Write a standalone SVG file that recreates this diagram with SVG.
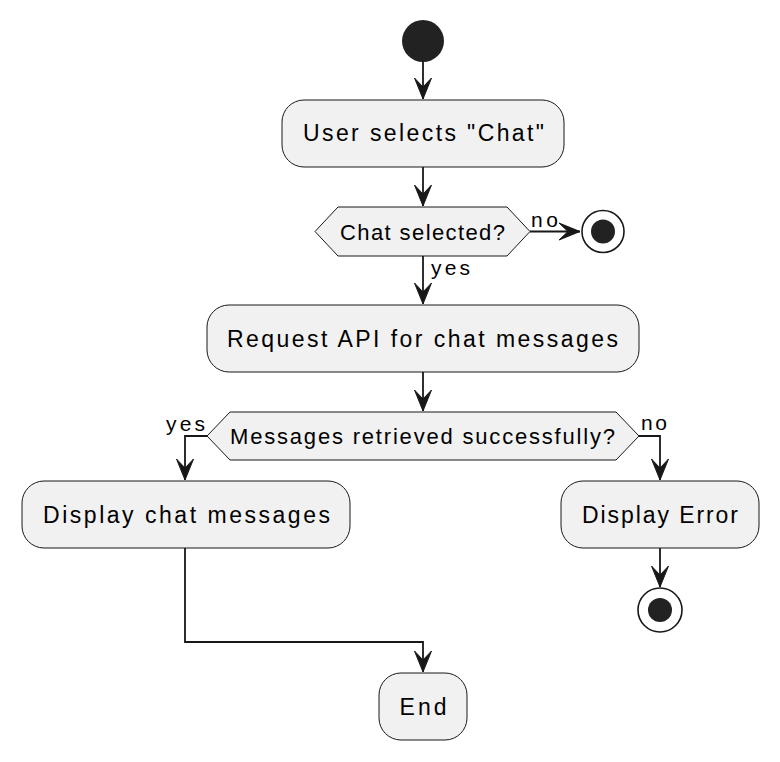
<svg xmlns="http://www.w3.org/2000/svg" width="780" height="762" viewBox="0 0 780 762">
<defs>
<style>
.box{fill:#F1F1F1;stroke:#181818;stroke-width:1}
.t{font-family:"Liberation Sans",Arial,sans-serif;font-size:23px;fill:#000}
.lbl{font-family:"Liberation Sans",Arial,sans-serif;font-size:21px;fill:#000}
.c{fill:none;stroke:#181818;stroke-width:1.8}
.dot{fill:#222222}
.ring{fill:#FFFFFF;stroke:#181818;stroke-width:1.6}
</style>
<marker id="ah" markerUnits="userSpaceOnUse" viewBox="-23 -10 24 20" markerWidth="24" markerHeight="20" refX="0" refY="0" orient="auto" overflow="visible">
<path d="M0,0 L-21,-8.5 L-12,0 L-21,8.5 Z" fill="#181818" stroke="#181818" stroke-width="1" stroke-linejoin="miter"/>
</marker>
</defs>
<rect width="780" height="762" fill="#FFFFFF"/>
<g id="connectors">
<path class="c" d="M423,62 L423,99" marker-end="url(#ah)"/>
<path class="c" d="M423,167 L423,206" marker-end="url(#ah)"/>
<path class="c" d="M530,231.5 L580,231.5" marker-end="url(#ah)"/>
<path class="c" d="M423,256 L423,304" marker-end="url(#ah)"/>
<path class="c" d="M423,372 L423,411" marker-end="url(#ah)"/>
<path class="c" d="M207,436 L185,436 L185,480" marker-end="url(#ah)"/>
<path class="c" d="M639,436 L660,436 L660,480" marker-end="url(#ah)"/>
<path class="c" d="M660,548 L660,587" marker-end="url(#ah)"/>
<path class="c" d="M185,548 L185,642 L423,642 L423,672" marker-end="url(#ah)"/>
<text class="lbl" x="531" y="227" textLength="27" lengthAdjust="spacing">no</text>
<text class="lbl" x="431" y="275" textLength="39" lengthAdjust="spacing">yes</text>
<text class="lbl" x="166" y="431" textLength="39" lengthAdjust="spacing">yes</text>
<text class="lbl" x="641" y="430" textLength="26" lengthAdjust="spacing">no</text>
</g>
<g id="start">
<circle class="dot" cx="423" cy="41" r="21"/>
</g>
<g id="userSelects">
<rect class="box" x="282" y="100" width="282" height="67" rx="22"/>
<text class="t" x="303" y="141" textLength="241" lengthAdjust="spacing">User selects "Chat"</text>
</g>
<g id="chatSelected">
<polygon class="box" points="315,231.5 338,207 507,207 530,231.5 507,256 338,256"/>
<text class="t" x="340" y="240" style="font-size:22px" textLength="165" lengthAdjust="spacing">Chat selected?</text>
</g>
<g id="end1">
<circle class="ring" cx="603" cy="231.5" r="21"/>
<circle class="dot" cx="603" cy="231.5" r="12"/>
</g>
<g id="requestApi">
<rect class="box" x="207" y="305" width="432" height="67" rx="22"/>
<text class="t" x="227" y="346.5" textLength="391" lengthAdjust="spacing">Request API for chat messages</text>
</g>
<g id="retrieved">
<polygon class="box" points="207,436 230,412 616,412 639,436 616,460 230,460"/>
<text class="t" x="230" y="444" style="font-size:22px" textLength="385" lengthAdjust="spacing">Messages retrieved successfully?</text>
</g>
<g id="displayChat">
<rect class="box" x="22" y="481" width="328" height="67" rx="22"/>
<text class="t" x="43" y="523" textLength="287" lengthAdjust="spacing">Display chat messages</text>
</g>
<g id="displayError">
<rect class="box" x="561" y="481" width="198" height="67" rx="22"/>
<text class="t" x="582" y="523" textLength="156" lengthAdjust="spacing">Display Error</text>
</g>
<g id="end2">
<circle class="ring" cx="660" cy="610" r="22"/>
<circle class="dot" cx="660" cy="610" r="12"/>
</g>
<g id="endBox">
<rect class="box" x="379" y="673" width="88" height="67" rx="22"/>
<text class="t" x="399.5" y="715" textLength="47" lengthAdjust="spacing">End</text>
</g>
</svg>
